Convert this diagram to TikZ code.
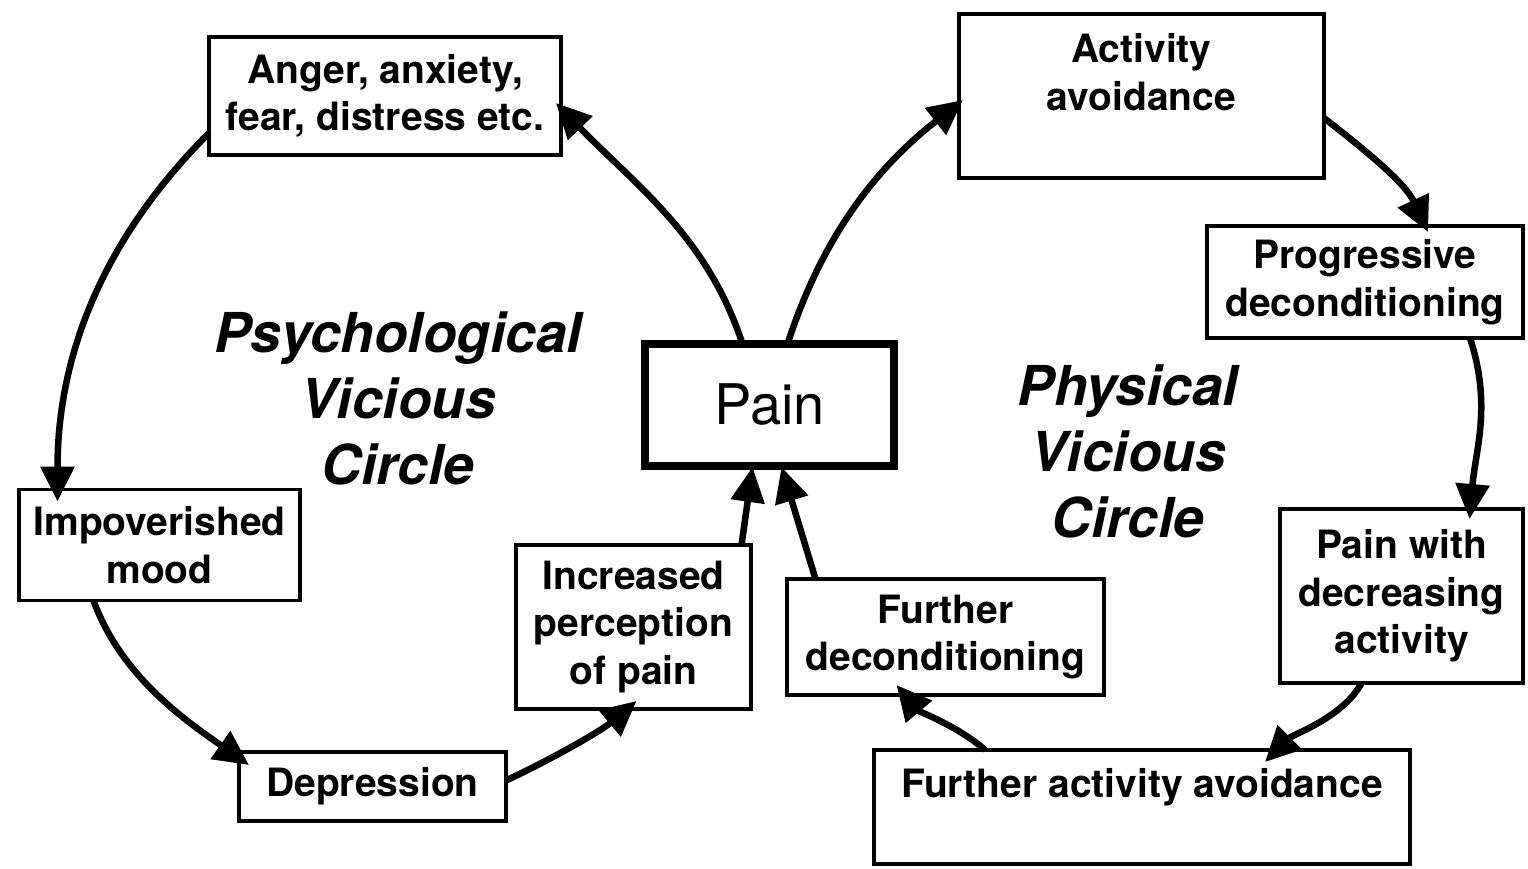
\documentclass[tikz,border=0pt]{standalone}
\usepackage{fontspec}
\setmainfont{TeX Gyre Heros}
\usetikzlibrary{arrows.meta}
\begin{document}
\begin{tikzpicture}[x=1pt,y=1pt,
  box/.style={draw, line width=3.5pt, fill=white, align=center, inner sep=0pt, outer sep=0pt,
    font=\fontsize{39}{47.5}\selectfont\bfseries},
  txt/.style={align=center, inner sep=0pt, font=\fontsize{39}{47.5}\selectfont\bfseries},
  painbox/.style={draw, line width=8pt, fill=white, inner sep=0pt, outer sep=0pt,
    font=\fontsize{56}{60}\selectfont},
  circlelabel/.style={align=center, inner sep=0pt, font=\fontsize{55}{66}\selectfont\bfseries\itshape},
  arr/.style={line width=6.5pt, -{Triangle[length=35pt,width=33pt]}}
]
\useasboundingbox (0,0) rectangle (1528,-869);
\fill[white] (0,0) rectangle (1528,-869);

% boxes
\node[box, minimum width=352, minimum height=118] (anger) at (385,-96) {Anger, anxiety,\\fear, distress etc.};
\node[box, minimum width=365, minimum height=164] (act) at (1141.5,-96) {};
\node[txt] (acttext) at (1141.5,-72) {Activity\\avoidance};
\node[box, minimum width=316, minimum height=112] (prog) at (1365,-282) {Progressive\\deconditioning};
\node[painbox, minimum width=249, minimum height=122] (pain) at (769.5,-405) {Pain};
\node[box, minimum width=281, minimum height=111] (impov) at (159.5,-545) {Impoverished\\mood};
\node[box, minimum width=235, minimum height=164] (incr) at (633.5,-627) {Increased\\perception\\of pain};
\node[box, minimum width=267, minimum height=69] (depr) at (372.5,-786.5) {Depression};
\node[box, minimum width=317, minimum height=116] (fdec) at (945.5,-637) {Further\\deconditioning};
\node[box, minimum width=243, minimum height=174] (pwith) at (1401.5,-596) {Pain with\\decreasing\\activity};
\node[box, minimum width=536, minimum height=114] (fact) at (1142,-807) {};
\node[txt] (facttext) at (1142,-787) {Further activity avoidance};

% labels
\node[circlelabel] (psy) at (398,-398) {Psychological\\Vicious\\Circle};
\node[circlelabel] (phy) at (1128,-451) {Physical\\Vicious\\Circle};

% psychological circle
\draw[arr] ([xshift=-27pt]pain.north) to[out=108,in=-46,looseness=0.95] ([xshift=-5pt,yshift=-7pt]anger.east);
\draw[arr] ([yshift=22pt]anger.south west) to[out=-135,in=90,looseness=0.95] ([xshift=-102pt,yshift=-12pt]impov.north);
\draw[arr] ([xshift=-66pt]impov.south) to[out=-70,in=145,looseness=0.9] ([xshift=10pt,yshift=-13pt]depr.north west);
\draw[arr] ([yshift=6pt]depr.east) to[out=25,in=-140,looseness=0.8] ([xshift=3pt,yshift=8pt]incr.south);
\draw[arr] ([xshift=108pt]incr.north) -- ([xshift=-17pt,yshift=-1pt]pain.south);
\draw[arr] ([xshift=-130pt]fdec.north) -- ([xshift=12pt,yshift=-1pt]pain.south);

% physical circle
\draw[arr] ([xshift=18pt]pain.north) to[out=72,in=-142,looseness=0.95] ([xshift=4pt,yshift=-4pt]act.west);
\draw[arr] ([yshift=-22pt]act.east) to[out=-38,in=115,looseness=0.9] ([xshift=63pt,yshift=-6pt]prog.north);
\draw[arr] ([xshift=105pt]prog.south) to[out=-72,in=85] ([xshift=68pt,yshift=-10pt]pwith.north);
\draw[arr] ([xshift=-40pt]pwith.south) to[out=-118,in=45,looseness=0.8] ([xshift=123pt,yshift=-12pt]fact.north);
\draw[arr] ([xshift=-157pt]fact.north) to[out=138,in=-50,looseness=0.8] ([xshift=-49pt,yshift=10pt]fdec.south);
\end{tikzpicture}
\end{document}
